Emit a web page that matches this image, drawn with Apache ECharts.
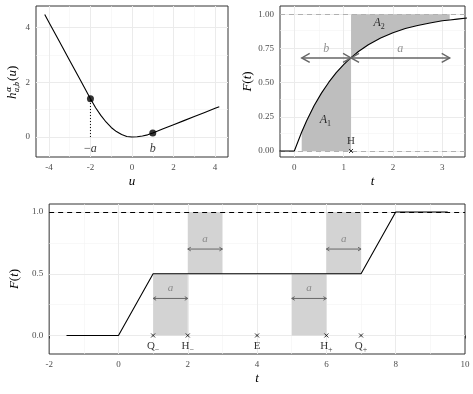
<!DOCTYPE html>
<html><head><meta charset="utf-8">
<script src="https://cdn.jsdelivr.net/npm/echarts@6/dist/echarts.min.js"></script>
<style>html,body{margin:0;padding:0;background:#fff}#c{width:473px;height:394px}</style>
</head><body><div id="c"></div><script>
// ---------- Panel 1 : h(u) ----------
const p1U = [-4.2,-4,-3.5,-3,-2.5,-2,-1.75,-1.5,-1.25,-1,-0.75,-0.5,-0.25,0,0.25,0.5,0.75,1,1.5,2,2.5,3,3.5,4,4.2];
const p1H = [4.48,4.2,3.5,2.8,2.1,1.4,1.07,0.79,0.55,0.35,0.2,0.09,0.02,0,0.01,0.04,0.08,0.15,0.3,0.45,0.6,0.75,0.9,1.05,1.11];
const p1DotU = [-2, 1];
const p1DotH = [1.4, 0.15];
const p1DotLabels = ['\u2212a', 'b'];
const p1LabelY = -0.42;
const p1XTicks = [-4,-2,0,2,4], p1XMinor = [-3,-1,1,3];
const p1YTicks = [0,2,4], p1YMinor = [1,3];
// ---------- Panel 2 : F(t) exponential ----------
const p2T = [-0.3,0,0.15,0.25,0.4,0.55,0.7,0.85,1,1.15,1.3,1.5,1.75,2,2.25,2.5,2.75,3,3.15,3.3,3.5];
const p2F = [0,0,0.139,0.221,0.33,0.423,0.503,0.573,0.632,0.683,0.727,0.777,0.826,0.865,0.895,0.918,0.936,0.952,0.958,0.964,0.972];
const p2Start = 0.15, p2H = 1.15, p2End = 3.15, p2ArrowY = 0.68;
const p2XTicks = [0,1,2,3], p2XMinor = [0.5,1.5,2.5];
const p2YTicks = [0,0.25,0.5,0.75,1], p2YMinor = [0.125,0.375,0.625,0.875];
// ---------- Panel 3 : F(t) piecewise ----------
const p3T = [-1.5,0,1,7,8,9.5];
const p3F = [0,0,0.5,0.5,1,1];
const p3ShadeX0 = [1,2,5,6], p3ShadeX1 = [2,3,6,7];
const p3ShadeY0 = [0,0.5,0,0.5], p3ShadeY1 = [0.5,1,0.5,1];
const p3ArrowY = [0.3,0.7,0.3,0.7], p3ALabelY = [0.38,0.78,0.38,0.78];
const p3MarkT = [1,2,4,6,7];
const p3MarkNames = ['Q|\u2212','H|\u2212','E|','H|+','Q|+'];
const p3XTicks = [-2,0,2,4,6,8,10], p3XMinor = [-1,1,3,5,7,9];
const p3YTicks = [0,0.5,1], p3YMinor = [0.25,0.75];

const SERIF = "'Liberation Serif','DejaVu Serif',serif";
const TICKC = '#4d4d4d';
const ext = {
  x0:[-4.62,4.62], y0:[-0.73,4.79],
  x1:[-0.29,3.46], y1:[-0.044,1.06],
  x2:[-2,10], y2:[-0.15,1.065]
};

function xAx(gi, e, ticks, fmt, name){
  return {type:'value', gridIndex:gi, min:e[0], max:e[1], splitLine:{show:false}, axisLine:{show:false},
    axisTick:{show:true, customValues:ticks, length:3, lineStyle:{color:'#333',width:1}},
    axisLabel:{customValues:ticks, formatter:fmt, color:TICKC, fontSize:9, fontFamily:SERIF, margin:6, hideOverlap:false},
    name:name, nameLocation:'middle', nameGap:18,
    nameTextStyle:{fontStyle:'italic', fontSize:13, fontFamily:SERIF, color:'#000'}};
}
function yAx(gi, e, ticks, fmt, name, gap){
  return {type:'value', gridIndex:gi, min:e[0], max:e[1], splitLine:{show:false}, axisLine:{show:false},
    axisTick:{show:true, customValues:ticks, length:3, lineStyle:{color:'#333',width:1}},
    axisLabel:{customValues:ticks, formatter:fmt, color:TICKC, fontSize:9, fontFamily:SERIF, margin:6, hideOverlap:false},
    name:name, nameLocation:'middle', nameGap:gap, nameRotate:90,
    nameTextStyle:{fontSize:13, fontFamily:SERIF, color:'#000',
      rich:{i:{fontStyle:'italic', fontSize:13, fontFamily:SERIF, color:'#000'}, n:{fontSize:13, fontFamily:SERIF, color:'#000'}}}};
}
function inside(v,e){return v>e[0]+1e-9 && v<e[1]-1e-9;}
function gridLines(i, ex, ey, xMaj, xMin, yMaj, yMin){
  const d = [];
  xMin.filter(v=>inside(v,ex)).forEach(v=>d.push({xAxis:v, lineStyle:{color:'#f4f4f4',width:0.6,type:'solid'}}));
  yMin.filter(v=>inside(v,ey)).forEach(v=>d.push({yAxis:v, lineStyle:{color:'#f4f4f4',width:0.6,type:'solid'}}));
  xMaj.filter(v=>inside(v,ex)).forEach(v=>d.push({xAxis:v, lineStyle:{color:'#ebebeb',width:1,type:'solid'}}));
  yMaj.filter(v=>inside(v,ey)).forEach(v=>d.push({yAxis:v, lineStyle:{color:'#ebebeb',width:1,type:'solid'}}));
  return {type:'line', xAxisIndex:i, yAxisIndex:i, data:[], z:1, silent:true,
    markLine:{z:1, silent:true, symbol:['none','none'], label:{show:false}, emphasis:{disabled:true}, animation:false, data:d}};
}
function hLine(i, y, color, dash, z){
  return {type:'line', xAxisIndex:i, yAxisIndex:i, data:[], z:z, silent:true,
    markLine:{z:z, silent:true, symbol:['none','none'], label:{show:false}, emphasis:{disabled:true}, animation:false,
      data:[{yAxis:y, lineStyle:{color:color, width:1, type:dash}}]}};
}
function texts(i, items, fmt, rich, z){
  return {type:'scatter', xAxisIndex:i, yAxisIndex:i, z:z||6, silent:true, symbolSize:1,
    itemStyle:{color:'rgba(0,0,0,0)'},
    data:items,
    label:{show:true, position:'inside', formatter:fmt, rich:rich}};
}
function arrowSeries(i, data, headLen, headHalf, width, color){
  return {type:'custom', xAxisIndex:i, yAxisIndex:i, z:5, silent:true, data:data,
    renderItem:function(params, api){
      const a = api.coord([api.value(0), api.value(2)]);
      const b = api.coord([api.value(1), api.value(2)]);
      const st = {stroke:color, lineWidth:width, fill:'none'};
      return {type:'group', children:[
        {type:'line', shape:{x1:a[0],y1:a[1],x2:b[0],y2:b[1]}, style:st},
        {type:'polyline', shape:{points:[[a[0]+headLen,a[1]-headHalf],[a[0],a[1]],[a[0]+headLen,a[1]+headHalf]]}, style:st},
        {type:'polyline', shape:{points:[[b[0]-headLen,b[1]-headHalf],[b[0],b[1]],[b[0]-headLen,b[1]+headHalf]]}, style:st}
      ]};
    }};
}
function polySeries(i, pts, color, z){
  return {type:'custom', xAxisIndex:i, yAxisIndex:i, z:z, silent:true, data:[[pts[0][0],pts[0][1]]],
    renderItem:function(params, api){
      return {type:'polygon', shape:{points:pts.map(p=>api.coord(p))}, style:{fill:color}};
    }};
}

// Panel 2 shaded polygons built from the curve arrays
const a1 = [], a2 = [];
p2T.forEach((t,k)=>{ if(t>=p2Start-1e-9 && t<=p2H+1e-9) a1.push([t,p2F[k]]); if(t>=p2H-1e-9 && t<=p2End+1e-9) a2.push([t,p2F[k]]); });
a1.push([p2H,0],[p2Start,0]);
a2.push([p2End,1],[p2H,1]);

const series = [
  gridLines(0, ext.x0, ext.y0, p1XTicks, p1XMinor, p1YTicks, p1YMinor),
  gridLines(1, ext.x1, ext.y1, p2XTicks, p2XMinor, p2YTicks, p2YMinor),
  gridLines(2, ext.x2, ext.y2, p3XTicks, p3XMinor, p3YTicks, p3YMinor),
  // panel 1
  {type:'line', xAxisIndex:0, yAxisIndex:0, z:4, data:p1U.map((u,k)=>[u,p1H[k]]), showSymbol:false, symbol:'none',
    lineStyle:{color:'#000', width:1.1}, silent:true},
  {type:'line', xAxisIndex:0, yAxisIndex:0, z:4, data:[[p1DotU[0],0],[p1DotU[0],p1DotH[0]]], showSymbol:false, symbol:'none',
    lineStyle:{color:'#000', width:1, type:[1,2]}, silent:true},
  {type:'scatter', xAxisIndex:0, yAxisIndex:0, z:5, symbolSize:7, itemStyle:{color:'#000'}, silent:true,
    data:p1DotU.map((u,k)=>[u,p1DotH[k]])},
  texts(0, p1DotU.map((u,k)=>({value:[u,p1LabelY], name:p1DotLabels[k]})),
    p=>p.name.startsWith('\u2212') ? '{n|\u2212}{i|a}' : '{i|'+p.name+'}',
    {i:{fontStyle:'italic', fontSize:12, fontFamily:SERIF, color:'#000'}, n:{fontSize:12, fontFamily:SERIF, color:'#000'}}),
  // panel 2
  polySeries(1, a1, '#bebebe', 2),
  polySeries(1, a2, '#bebebe', 2),
  hLine(1, 0, '#b0b0b0', [5,4], 3),
  hLine(1, 1, '#b0b0b0', [5,4], 3),
  {type:'line', xAxisIndex:1, yAxisIndex:1, z:4, data:p2T.map((t,k)=>[t,p2F[k]]), showSymbol:false, symbol:'none',
    lineStyle:{color:'#000', width:1.1}, silent:true},
  arrowSeries(1, [[p2Start,p2H,p2ArrowY],[p2H,p2End,p2ArrowY]], 8, 4.5, 1.4, '#666'),
  texts(1, [{value:[(p2Start+p2H)/2,0.75], name:'b'},{value:[(p2H+p2End)/2,0.75], name:'a'}],
    p=>'{g|'+p.name+'}', {g:{fontStyle:'italic', fontSize:12, fontFamily:SERIF, color:'#777'}}),
  texts(1, [{value:[0.63,0.225], name:'1'},{value:[1.72,0.935], name:'2'}],
    p=>'{i|A}{s|'+p.name+'}', {i:{fontStyle:'italic', fontSize:12, fontFamily:SERIF, color:'#000', lineHeight:16},
      s:{fontSize:8, fontFamily:SERIF, color:'#000', verticalAlign:'bottom', lineHeight:16}}),
  {type:'scatter', xAxisIndex:1, yAxisIndex:1, z:6, silent:true, data:[[p2H,0]],
    symbol:'path://M0,0L10,10M10,0L0,10', symbolSize:4, itemStyle:{color:'rgba(0,0,0,0)', borderColor:'#000', borderWidth:1},
    label:{show:true, position:'top', distance:2, formatter:'H', fontSize:11, fontFamily:SERIF, color:'#000'}},
  // panel 3
  ...p3ShadeX0.map((x,k)=>polySeries(2, [[x,p3ShadeY0[k]],[p3ShadeX1[k],p3ShadeY0[k]],[p3ShadeX1[k],p3ShadeY1[k]],[x,p3ShadeY1[k]]], '#d3d3d3', 2)),
  hLine(2, 1, '#000', [5,4], 3),
  {type:'line', xAxisIndex:2, yAxisIndex:2, z:4, data:p3T.map((t,k)=>[t,p3F[k]]), showSymbol:false, symbol:'none',
    lineStyle:{color:'#000', width:1.1}, silent:true},
  arrowSeries(2, p3ShadeX0.map((x,k)=>[x,p3ShadeX1[k],p3ArrowY[k]]), 3, 1.8, 1, '#666'),
  texts(2, p3ShadeX0.map((x,k)=>({value:[(x+p3ShadeX1[k])/2, p3ALabelY[k]], name:'a'})),
    p=>'{g|a}', {g:{fontStyle:'italic', fontSize:11, fontFamily:SERIF, color:'#777'}}),
  {type:'scatter', xAxisIndex:2, yAxisIndex:2, z:6, silent:true, data:p3MarkT.map((t,k)=>({value:[t,0], name:p3MarkNames[k]})),
    symbol:'path://M0,0L10,10M10,0L0,10', symbolSize:4, itemStyle:{color:'rgba(0,0,0,0)', borderColor:'#000', borderWidth:1},
    label:{show:true, position:'bottom', distance:1, formatter:p=>{const s=p.name.split('|'); return '{m|'+s[0]+'}'+(s[1]?'{s|'+s[1]+'}':'');},
      rich:{m:{fontSize:11, fontFamily:SERIF, color:'#000', lineHeight:15}, s:{fontSize:8, fontFamily:SERIF, color:'#000', verticalAlign:'bottom', lineHeight:15}}}}
];

const chart = echarts.init(document.getElementById('c'), null, {renderer:'canvas'});
chart.setOption({
  animation:false,
  backgroundColor:'#fff',
  grid:[
    {left:36, top:6, width:192, height:151, show:true, backgroundColor:'#fff', borderColor:'#333', borderWidth:1},
    {left:280, top:6, width:185, height:151, show:true, backgroundColor:'#fff', borderColor:'#333', borderWidth:1},
    {left:42, top:204, width:423, height:150, show:true, backgroundColor:'#fff', borderColor:'#333', borderWidth:1}
  ],
  xAxis:[
    xAx(0, ext.x0, p1XTicks, v=>String(v), 'u'),
    xAx(1, ext.x1, p2XTicks, v=>String(v), 't'),
    xAx(2, ext.x2, p3XTicks, v=>String(v), 't')
  ],
  yAxis:[
    yAx(0, ext.y0, p1YTicks, v=>String(v), '', 20),
    yAx(1, ext.y1, p2YTicks, v=>v.toFixed(2), '{i|F}{n|(}{i|t}{n|)}', 25),
    yAx(2, ext.y2, p3YTicks, v=>v.toFixed(1), '{i|F}{n|(}{i|t}{n|)}', 24)
  ],
  graphic:[{
    type:'group', x:13, y:82, rotation:Math.PI/2,
    children:[
      {type:'text', x:-17, y:0, style:{text:'h', font:'italic 13px '+SERIF, fill:'#000', textAlign:'left', textVerticalAlign:'middle', align:'left', verticalAlign:'middle'}},
      {type:'text', x:-10, y:-4.5, style:{text:'\u03b1', font:"italic 8px 'DejaVu Serif',serif", fill:'#000', textAlign:'left', textVerticalAlign:'middle', align:'left', verticalAlign:'middle'}},
      {type:'text', x:-10, y:4, style:{text:'a,b', font:'italic 8px '+SERIF, fill:'#000', textAlign:'left', textVerticalAlign:'middle', align:'left', verticalAlign:'middle'}},
      {type:'text', x:1, y:0, style:{text:'(', font:'13px '+SERIF, fill:'#000', textAlign:'left', textVerticalAlign:'middle', align:'left', verticalAlign:'middle'}},
      {type:'text', x:5.5, y:0, style:{text:'u', font:'italic 13px '+SERIF, fill:'#000', textAlign:'left', textVerticalAlign:'middle', align:'left', verticalAlign:'middle'}},
      {type:'text', x:12, y:0, style:{text:')', font:'13px '+SERIF, fill:'#000', textAlign:'left', textVerticalAlign:'middle', align:'left', verticalAlign:'middle'}}
    ]
  }],
  series:series
});
</script></body></html>
